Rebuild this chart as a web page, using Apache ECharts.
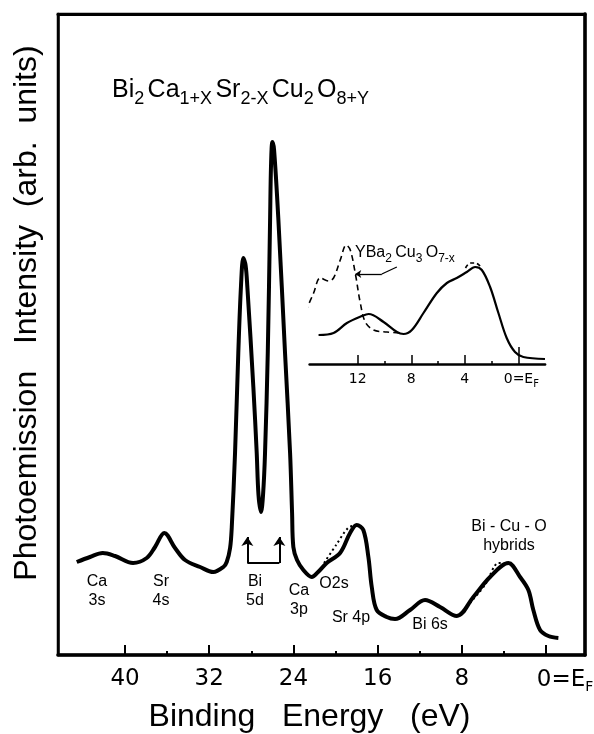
<!DOCTYPE html>
<html>
<head>
<meta charset="utf-8">
<script src="https://cdn.jsdelivr.net/npm/echarts@6/dist/echarts.min.js"></script>
<style>
html, body { margin: 0; padding: 0; background: #fff; overflow: hidden; }
#main { width: 594px; height: 734px; }
</style>
</head>
<body>
<div id="main"></div>
<script>
// main spectrum (binding energy in eV, intensity arb. units)
var mainEnergy = [44.59, 43.33, 42.12, 40.95, 39.24, 37.94, 37.15, 36.27, 35.25, 34.30, 32.87, 31.61, 30.66,
    30.34, 30.02, 29.86, 29.55, 29.24, 28.98, 28.76, 28.55, 28.38, 27.81, 27.49, 27.32, 27.08, 26.89, 26.70,
    26.44, 26.22, 26.13, 26.00, 25.84, 25.43, 24.80, 24.32, 24.13, 24.01, 23.66, 23.06, 22.26, 21.66, 20.84,
    19.57, 18.62, 17.99, 17.36, 16.88, 16.56, 16.09, 15.14, 14.35, 12.92, 11.50, 10.07, 8.48, 6.91, 5.32,
    3.58, 2.47, 1.68, 1.21, 0.57, -0.22, -1.17];
var mainIntensity = [93, 98, 102, 99, 92, 97, 108, 122, 107, 95, 88, 83, 88,
    93, 107, 128, 202, 302, 370, 397, 390, 368, 268, 202, 160, 143, 160, 202,
    302, 435, 490, 513, 505, 435, 302, 202, 142, 108, 95, 85, 78, 83, 92,
    102, 122, 130, 125, 98, 68, 45, 38, 36, 45, 55, 48, 39, 58, 78,
    92, 78, 65, 45, 25, 19, 17];

// dotted alternatives in the main panel
var o2sEnergy = [21.09, 19.95, 18.81, 18.05];
var o2sIntensity = [92, 110, 127, 130];
var hybridEnergy = [7.22, 5.80, 4.53, 3.90];
var hybridIntensity = [52, 70, 92, 92];

// inset: valence band
var insetEnergy = [14.93, 13.81, 12.81, 11.69, 11.19, 10.07, 9.07, 8.58, 7.96, 7.09, 6.09, 5.34, 4.60,
    3.85, 3.23, 2.73, 2.11, 1.49, 0.87, 0.25, -0.37, -1.99];
var insetIntensity = [29, 31, 41, 48, 50, 42, 32, 30, 34, 51, 71, 81, 86,
    92, 97, 94, 77, 51, 26, 12, 7, 5];
// YBa2Cu3O7-x (dashed)
var ybcoEnergy = [15.92, 15.30, 14.80, 14.18, 13.81, 13.31, 12.86, 12.56, 12.19, 11.81, 11.44, 10.82, 9.82, 8.84];
var ybcoIntensity = [52, 71, 86, 83, 86, 104, 119, 114, 91, 61, 42, 34, 32, 31];
var ybcoCapEnergy = [3.95, 3.60, 3.20, 2.86];
var ybcoCapIntensity = [96, 101, 101, 98];

// ticks
var mainMajorTicks = [40, 32, 24, 16, 8, 0];
var mainMinorTicks = [36, 28, 20, 12, 4];
var insetMajorTicks = [12, 8, 4];
var insetMinorTicks = [10, 6, 2];
var insetZeroTick = [0];
var insetTickLabels = [12, 8, 4, 0];

// annotations (data coords)
var bi5dArrows = [28.38, 25.34];
var bi5dArrowFrom = 92;
var bi5dArrowTo = 118;
var leaderPoints = [[9.08, 97], [10.2, 90], [12.19, 90]];

function pairs(xs, ys) {
    return xs.map(function (x, i) { return [x, ys[i]]; });
}

var FONT = '"Liberation Sans", Arial, sans-serif';
var TICKFONT = '"DejaVu Sans", sans-serif';

var chart = echarts.init(document.getElementById('main'));

var noAxisBits = { axisLabel: { show: false }, axisTick: { show: false }, splitLine: { show: false } };

function lineAxis(extra) {
    return Object.assign({
        type: 'value',
        splitLine: { show: false }
    }, extra);
}

var MAIN_MIN = -3.7, MAIN_MAX = 46.37;

var option = {
    animation: false,
    backgroundColor: '#fff',
    grid: [
        { left: 58, right: 9, top: 14, bottom: 79, outerBoundsMode: 'none', containLabel: false,
          show: true, borderColor: '#000', borderWidth: 2.5, backgroundColor: 'transparent' },
        { left: 309.6, width: 235.5, top: 234, height: 130, outerBoundsMode: 'none', containLabel: false }
    ],
    xAxis: [
        lineAxis({
            gridIndex: 0, position: 'bottom', min: MAIN_MIN, max: MAIN_MAX, inverse: true,
            axisLine: { onZero: false, lineStyle: { color: '#000', width: 3.5 } },
            axisTick: { inside: true, length: 10, customValues: mainMajorTicks, lineStyle: { color: '#000', width: 2 } },
            axisLabel: {
                customValues: mainMajorTicks, margin: 13, color: '#000',
                fontFamily: TICKFONT, fontSize: 23,
                formatter: function (v) { return v === 0 ? '{z|0}{r|=E}{f|F}' : String(v); },
                rich: {
                    z: { fontFamily: TICKFONT, fontSize: 23, lineHeight: 24, padding: [0, 0, 0, 38] },
                    r: { fontFamily: TICKFONT, fontSize: 23, lineHeight: 24 },
                    f: { fontFamily: TICKFONT, fontSize: 14, lineHeight: 16, padding: [14, 0, 0, 0] }
                }
            },
            name: 'Binding   Energy   (eV)',
            nameLocation: 'middle',
            nameGap: 46,
            nameTextStyle: { fontFamily: FONT, fontSize: 32, color: '#000', lineHeight: 32, padding: [0, 24, 0, 0] }
        }),
        lineAxis({
            gridIndex: 0, position: 'bottom', min: MAIN_MIN, max: MAIN_MAX, inverse: true,
            axisLine: { show: false },
            axisTick: { inside: true, length: 4, customValues: mainMinorTicks, lineStyle: { color: '#000', width: 2 } },
            axisLabel: { show: false }
        }),
        lineAxis({
            gridIndex: 0, position: 'top', min: MAIN_MIN, max: MAIN_MAX, inverse: true,
            axisLine: { onZero: false, lineStyle: { color: '#000', width: 3 } },
            axisTick: { show: false }, axisLabel: { show: false }
        }),
        lineAxis({
            gridIndex: 1, position: 'bottom', min: -2, max: 15.6, inverse: true,
            axisLine: { onZero: false, lineStyle: { color: '#000', width: 2.5 } },
            axisTick: { inside: true, length: 9, customValues: insetMajorTicks, lineStyle: { color: '#000', width: 1.5 } },
            axisLabel: {
                customValues: insetTickLabels, margin: 8, color: '#000',
                fontFamily: TICKFONT, fontSize: 14,
                formatter: function (v) { return v === 0 ? '{r|0=E}{f|F}' : String(v); },
                rich: {
                    r: { fontFamily: TICKFONT, fontSize: 14, lineHeight: 15, padding: [0, 0, 0, 6] },
                    f: { fontFamily: TICKFONT, fontSize: 10, lineHeight: 10, padding: [9, 0, 0, 0] }
                }
            }
        }),
        lineAxis({
            gridIndex: 1, position: 'bottom', min: -2, max: 15.6, inverse: true,
            axisLine: { show: false },
            axisTick: { inside: true, length: 3, customValues: insetMinorTicks, lineStyle: { color: '#000', width: 1.5 } },
            axisLabel: { show: false }
        }),
        lineAxis({
            gridIndex: 1, position: 'bottom', min: -2, max: 15.6, inverse: true,
            axisLine: { show: false },
            axisTick: { inside: true, length: 17, customValues: insetZeroTick, lineStyle: { color: '#000', width: 1.5 } },
            axisLabel: { show: false }
        })
    ],
    yAxis: [
        Object.assign({ type: 'value', gridIndex: 0, min: 0, max: 641, position: 'left',
            axisLine: { show: true, onZero: false, lineStyle: { color: '#000', width: 2.5 } } }, noAxisBits),
        Object.assign({ type: 'value', gridIndex: 0, min: 0, max: 641, position: 'right',
            axisLine: { show: true, onZero: false, lineStyle: { color: '#000', width: 3.5 } } }, noAxisBits),
        Object.assign({ type: 'value', gridIndex: 1, min: 0, max: 130, show: false }, noAxisBits)
    ],
    series: [
        {
            name: 'Bi2Ca1+xSr2-xCu2O8+y', type: 'line', xAxisIndex: 0, yAxisIndex: 0,
            data: pairs(mainEnergy, mainIntensity), showSymbol: false, smooth: 0.35, silent: true,
            lineStyle: { color: '#000', width: 4 },
            markLine: {
                silent: true, symbol: ['none', 'arrow'], symbolSize: 9,
                label: { show: false },
                lineStyle: { color: '#000', width: 2, type: 'solid' },
                data: [
                    [{ coord: [bi5dArrows[0], bi5dArrowFrom] }, { coord: [bi5dArrows[0], bi5dArrowTo] }],
                    [{ coord: [bi5dArrows[1], bi5dArrowFrom] }, { coord: [bi5dArrows[1], bi5dArrowTo] }],
                    [{ coord: [bi5dArrows[0], bi5dArrowFrom], symbol: 'none' }, { coord: [bi5dArrows[1], bi5dArrowFrom], symbol: 'none' }]
                ]
            }
        },
        {
            name: 'O2s', type: 'line', xAxisIndex: 0, yAxisIndex: 0,
            data: pairs(o2sEnergy, o2sIntensity), showSymbol: false, smooth: 0.3, silent: true,
            lineStyle: { color: '#000', width: 2, type: [2, 3] }
        },
        {
            name: 'hybrids', type: 'line', xAxisIndex: 0, yAxisIndex: 0,
            data: pairs(hybridEnergy, hybridIntensity), showSymbol: false, smooth: 0.3, silent: true,
            lineStyle: { color: '#000', width: 2, type: [2, 3] }
        },
        {
            name: 'inset', type: 'line', xAxisIndex: 3, yAxisIndex: 2,
            data: pairs(insetEnergy, insetIntensity), showSymbol: false, smooth: 0.35, silent: true,
            lineStyle: { color: '#000', width: 2.2 }
        },
        {
            name: 'YBa2Cu3O7-x', type: 'line', xAxisIndex: 3, yAxisIndex: 2, clip: false,
            data: pairs(ybcoEnergy, ybcoIntensity), showSymbol: false, smooth: 0.35, silent: true,
            lineStyle: { color: '#000', width: 1.6, type: [6, 4] },
            markLine: {
                silent: true, symbol: ['none', 'none'], symbolSize: 6,
                label: { show: false },
                lineStyle: { color: '#000', width: 1.3, type: 'solid' },
                data: [
                    [{ coord: leaderPoints[0] }, { coord: leaderPoints[1] }],
                    [{ coord: leaderPoints[1] }, { coord: leaderPoints[2], symbol: 'arrow' }]
                ]
            }
        },
        {
            name: 'YBa2Cu3O7-x cap', type: 'line', xAxisIndex: 3, yAxisIndex: 2,
            data: pairs(ybcoCapEnergy, ybcoCapIntensity), showSymbol: false, smooth: 0.35, silent: true,
            lineStyle: { color: '#000', width: 1.6, type: [4, 3] }
        }
    ],
    graphic: [
        {
            type: 'text', x: 112, y: 90,
            style: {
                text: '{m|Bi}{s|2} {m|Ca}{s|1+X} {m|Sr}{s|2-X} {m|Cu}{s|2} {m|O}{s|8+Y}',
                align: 'left', verticalAlign: 'middle', textAlign: 'left', textVerticalAlign: 'middle',
                fill: '#000',
                rich: {
                    m: { fontFamily: FONT, fontSize: 25, lineHeight: 30, fill: '#000' },
                    s: { fontFamily: FONT, fontSize: 18, lineHeight: 18, padding: [18, 0, 0, 0], fill: '#000' }
                }
            }
        },
        {
            type: 'text', x: 355, y: 253,
            style: {
                text: '{m|YBa}{s|2} {m|Cu}{s|3} {m|O}{s|7-x}',
                align: 'left', verticalAlign: 'middle', textAlign: 'left', textVerticalAlign: 'middle',
                fill: '#000',
                rich: {
                    m: { fontFamily: FONT, fontSize: 16, lineHeight: 20, fill: '#000' },
                    s: { fontFamily: FONT, fontSize: 12, lineHeight: 12, padding: [12, 0, 0, 0], fill: '#000' }
                }
            }
        },
        {
            type: 'text', x: 27, y: 313, rotation: Math.PI / 2,
            style: {
                text: 'Photoemission   Intensity  (arb.  units)',
                font: '32px ' + FONT, fill: '#000',
                align: 'center', verticalAlign: 'middle', textAlign: 'center', textVerticalAlign: 'middle'
            }
        }
    ].concat([
        { t: 'Ca\n3s', x: 97, y: 591 },
        { t: 'Sr\n4s', x: 161, y: 591 },
        { t: 'Bi\n5d', x: 255, y: 591 },
        { t: 'Ca\n3p', x: 299, y: 600 },
        { t: 'O2s', x: 334, y: 584 },
        { t: 'Sr 4p', x: 351, y: 618 },
        { t: 'Bi 6s', x: 430, y: 625 },
        { t: 'Bi - Cu - O\nhybrids', x: 509, y: 536 }
    ].map(function (d) {
        return {
            type: 'text', x: d.x, y: d.y,
            style: {
                text: d.t, font: '16px ' + FONT, fill: '#000', lineHeight: 19,
                align: 'center', verticalAlign: 'middle', textAlign: 'center', textVerticalAlign: 'middle'
            }
        };
    }))
};

chart.setOption(option);
</script>
</body>
</html>
